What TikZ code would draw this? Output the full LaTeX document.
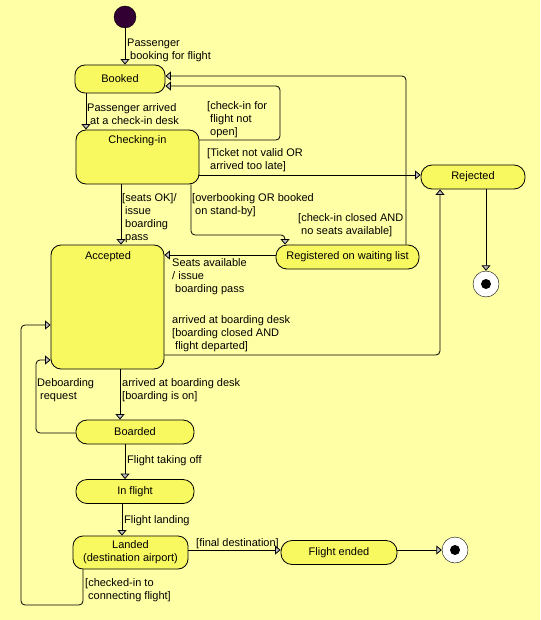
\documentclass[tikz,border=0pt]{standalone}
\usepackage{fontspec}
\setmainfont{Liberation Sans}
\usetikzlibrary{arrows.meta}
\definecolor{bgy}{RGB}{255,255,165}
\definecolor{stf}{RGB}{248,248,96}
\definecolor{initc}{RGB}{50,0,50}
\definecolor{arrg}{RGB}{190,190,190}
\newcommand\lind{\hspace*{3pt}}
\begin{document}
\begin{tikzpicture}[x=1pt,y=-1pt,
  font=\fontsize{11}{13}\selectfont,
  statebox/.style={draw=black, line width=0.8pt, fill=stf, rounded corners=10pt, inner sep=0pt, align=center},
  pill/.style={statebox, rounded corners=11pt},
  lbl/.style={anchor=north west, inner sep=0pt, align=left, execute at begin node=\rule{0pt}{10pt}},
  conn/.style={line width=0.8pt, rounded corners=4pt, -{Triangle[length=5.5pt,width=9pt,fill=arrg]}}]
\useasboundingbox (0,0) rectangle (540,620);
\fill[bgy] (0,0) rectangle (540,620);

% states
\node[circle, draw=black, fill=initc, minimum size=22pt, inner sep=0pt] (init) at (125,17) {};
\node[statebox, minimum width=90pt, minimum height=28pt] (booked) at (120,79) {Booked};
\node[statebox, minimum width=123pt, minimum height=54pt] (checking) at (137.5,157) {};
\node (checkingt) at (137.5,141) {Checking-in};
\node[pill, minimum width=104pt, minimum height=24pt] (rejected) at (473,177) {Rejected};
\node[pill, minimum width=143pt, minimum height=24pt] (registered) at (347.5,257) {Registered on waiting list};
\node[statebox, minimum width=113pt, minimum height=124pt] (accepted) at (107.5,307) {};
\node (acceptedt) at (108,256.5) {Accepted};
\node[circle, draw=black, fill=white, minimum size=26pt, inner sep=0pt] (final1) at (486,284) {};
\node[circle, fill=black, minimum size=10pt, inner sep=0pt] (final1d) at (486,284) {};
\node[pill, minimum width=118pt, minimum height=24pt] (boarded) at (135,432) {Boarded};
\node[pill, minimum width=118pt, minimum height=24pt] (inflight) at (135,491.5) {In flight};
\node[statebox, minimum width=115pt, minimum height=33pt] (landed) at (130.5,552.5) {Landed\\(destination airport)};
\node[pill, minimum width=116pt, minimum height=24pt] (ended) at (339,552.5) {Flight ended};
\node[circle, draw=black, fill=white, minimum size=26pt, inner sep=0pt] (final2) at (455,550) {};
\node[circle, fill=black, minimum size=10pt, inner sep=0pt] (final2d) at (455,550) {};

% connectors
\draw[conn] (init.south) -- (init.south |- booked.north);
\node[lbl] (l1) at (127,38.3) {Passenger\\\lind booking for flight};

\draw[conn] (booked.south -| 86,0) -- (checking.north -| 86,0);
\node[lbl] (l2) at (87,103) {Passenger arrived\\\lind at a check-in desk};

\draw[conn] (checking.east |- 0,140) -- (280,140) -- (280,86) -- (booked.east |- 0,86);
\node[lbl] (l3) at (207,101.3) {[check-in for\\\lind flight not\\\lind open]};

\draw[conn] (checking.east |- 0,175) -- (rejected.west |- 0,175);
\node[lbl] (l4) at (207,148.3) {[Ticket not valid OR\\\lind arrived too late]};

\draw[conn] (checking.south -| 121,0) -- (accepted.north -| 121,0);
\node[lbl] (l5) at (122,193.3) {[seats OK]/\\\lind issue\\\lind boarding\\\lind pass};

\draw[conn] (checking.south -| 191,0) -- (191,235) -- (285,235) -- (registered.north -| 285,0);
\node[lbl] (l6) at (192,193.3) {[overbooking OR booked\\\lind on stand-by]};

\draw[conn] (registered.north -| 406,0) -- (406,76) -- (booked.east |- 0,76);
\node[lbl] (l7) at (298,213.3) {[check-in closed AND\\\lind no seats available]};

\draw[conn] (registered.west |- 0,255) -- (accepted.east |- 0,255);
\node[lbl] (l8) at (172,258.3) {Seats available\\/ issue\\\lind boarding pass};

\draw[conn] (accepted.east |- 0,355) -- (440,355) -- (rejected.south -| 440,0);
\node[lbl] (l9) at (172,315.3) {arrived at boarding desk\\{[boarding closed AND}\\\lind flight departed]};

\draw[conn] (rejected.south -| 486,0) -- (final1.north);

\draw[conn] (accepted.south -| 120,0) -- (boarded.north -| 120,0);
\node[lbl] (l10) at (122,378.3) {arrived at boarding desk\\{[boarding is on]}};

\draw[conn] (boarded.west |- 0,433) -- (36,433) -- (36,360) -- (accepted.west |- 0,360);
\node[lbl] (l11) at (37,378.3) {Deboarding\\\lind request};

\draw[conn] (boarded.south -| 125,0) -- (inflight.north -| 125,0);
\node[lbl] (l12) at (127,453.3) {Flight taking off};

\draw[conn] (inflight.south -| 122,0) -- (landed.north -| 122,0);
\node[lbl] (l13) at (124,513.3) {Flight landing};

\draw[conn] (landed.east |- 0,550) -- (ended.west |- 0,550);
\node[lbl] (l14) at (196,536.3) {[final destination]};

\draw[conn] (ended.east |- 0,550) -- (final2.west);

\draw[conn] (landed.south -| 83,0) -- (83,605) -- (21,605) -- (21,325) -- (accepted.west |- 0,325);
\node[lbl] (l15) at (85,578.3) {[checked-in to\\\lind connecting flight]};
\end{tikzpicture}
\end{document}
